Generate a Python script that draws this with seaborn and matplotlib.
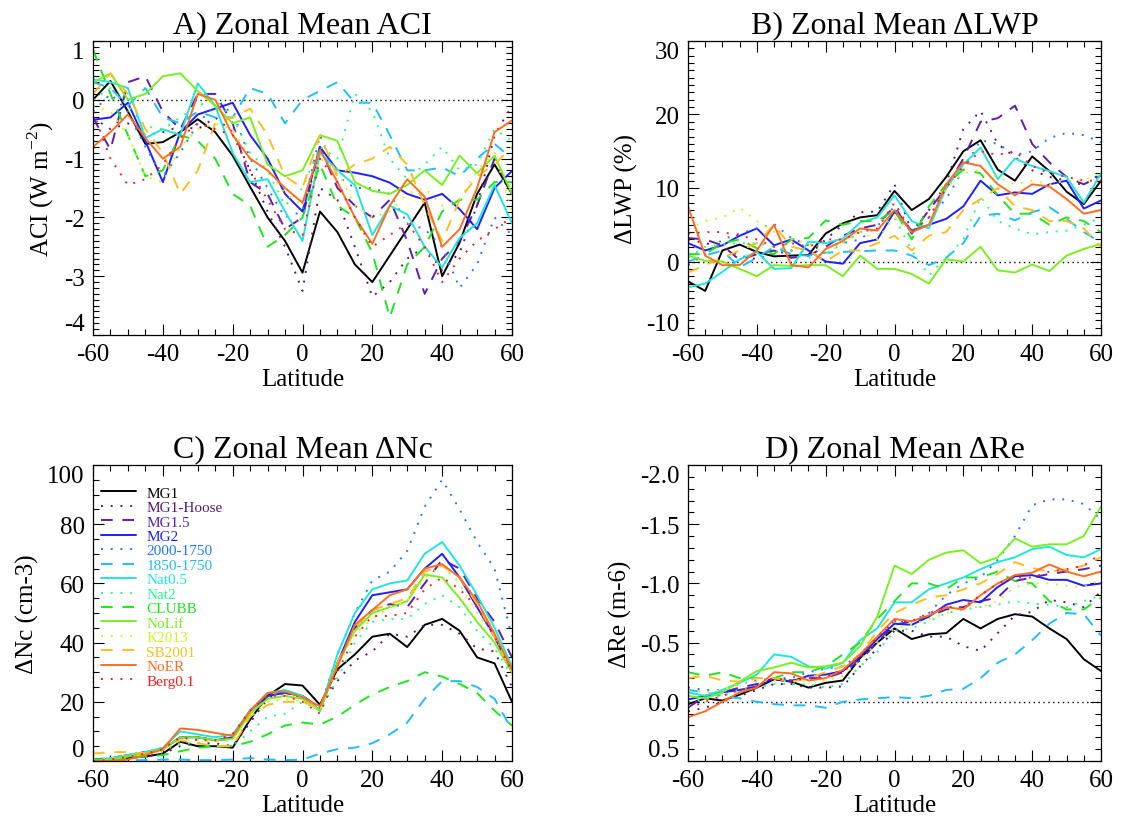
import matplotlib
matplotlib.use("Agg")
import matplotlib.pyplot as plt
import seaborn as sns
from matplotlib.ticker import MultipleLocator

LAT = list(range(-60, 61, 5))
MODELS = ["MG1", "MG1-Hoose", "MG1.5", "MG2", "2000-1750", "1850-1750", "Nat0.5",
          "Nat2", "CLUBB", "NoLif", "K2013", "SB2001", "NoER", "Berg0.1"]
COLORS = ["#000000", "#551a6e", "#5a1eb4", "#1e1eff", "#1e78ff", "#1ebeff", "#1ee6dc",
          "#1eff8c", "#1ee61e", "#78f01e", "#d2f51e", "#ffbe1e", "#ff6e1e", "#ff1e1e"]
STYLES = ["solid", "dot", "dash", "solid", "dot", "dash", "solid",
          "dot", "dash", "solid", "dot", "dash", "solid", "dot"]

# ---- Panel A: ACI (W m-2)
ACI_MG1 = [0.0, 0.32, -0.2, -0.75, -0.72, -0.55, -0.33, -0.55, -0.95, -1.48, -2.0, -2.4, -2.94, -1.9, -2.25, -2.8, -3.1, -2.65, -2.2, -1.75, -3.0, -2.43, -1.6, -1.1, -1.6]
ACI_MG1_HOOSE = [-0.3, -0.5, -0.4, -0.6, -0.55, -0.45, -0.5, -0.3, -0.55, -1.2, -1.9, -2.5, -3.25, -1.5, -1.7, -2.5, -3.35, -3.1, -2.7, -2.5, -2.9, -2.6, -1.8, -0.6, -0.1]
ACI_MG1_5 = [-0.3, -0.85, 0.3, 0.4, -0.2, -0.5, 0.1, 0.1, -0.4, -1.4, -1.6, -2.2, -2.0, -0.8, -1.5, -1.8, -2.0, -1.7, -2.4, -3.3, -2.7, -2.4, -1.8, -1.0, -1.6]
ACI_MG2 = [-0.34, -0.3, -0.05, -0.7, -1.4, -0.55, -0.25, -0.15, -0.05, -0.6, -1.0, -1.6, -1.9, -0.8, -1.2, -1.24, -1.3, -1.41, -1.6, -1.7, -1.6, -1.86, -2.2, -1.5, -1.21]
ACI_2000 = [-0.2, 0.1, -0.2, -0.8, -1.3, -0.9, -0.4, -0.1, -0.2, -1.0, -1.5, -2.0, -1.9, -0.6, -1.3, -1.5, -1.5, -1.6, -2.1, -2.2, -2.5, -3.2, -2.8, -2.0, -2.3]
ACI_1850 = [0.3, 0.2, -0.1, 0.2, -0.3, -0.4, -0.2, -0.3, -0.3, 0.2, 0.1, -0.4, 0.0, 0.15, 0.3, -0.05, -0.05, -0.6, -1.2, -1.2, -1.15, -1.3, -1.0, -0.75, -1.0]
ACI_NAT05 = [0.35, 0.3, 0.2, -0.65, -0.5, -0.6, 0.28, -0.1, -0.9, -1.4, -1.35, -1.9, -2.4, -0.9, -1.2, -1.45, -2.3, -1.8, -1.95, -2.5, -2.85, -2.35, -2.1, -1.45, -2.1]
ACI_NAT2 = [0.0, 0.2, -0.1, -0.45, -0.5, -0.3, -0.1, 0.0, -0.3, -0.9, -1.2, -1.8, -1.5, -0.8, -1.0, 0.1, -0.2, -1.0, -1.35, -1.1, -0.8, -1.2, -1.1, -0.5, -0.7]
ACI_CLUBB = [0.85, 0.1, -0.6, -1.3, -1.2, -0.6, -0.7, -1.0, -1.6, -1.8, -2.5, -2.3, -2.0, -1.1, -1.8, -2.0, -2.6, -3.7, -2.8, -2.5, -1.9, -1.7, -1.7, -1.4, -1.4]
ACI_NOLIF = [0.3, 0.45, 0.0, 0.1, 0.4, 0.45, 0.15, -0.1, -0.4, -0.3, -1.1, -1.3, -1.2, -0.6, -0.7, -1.4, -1.55, -1.6, -1.45, -1.2, -1.45, -0.95, -1.25, -0.95, -1.6]
ACI_K2013 = [-0.1, -0.2, -0.6, -1.3, -1.4, -0.8, -0.5, -0.4, -0.5, -1.0, -1.2, -1.6, -1.8, -1.0, -1.2, -1.8, -2.0, -1.9, -1.6, -1.5, -1.8, -1.7, -1.2, -0.9, -1.9]
ACI_SB2001 = [0.1, 0.45, 0.1, -0.5, -0.9, -1.6, -1.2, -0.4, -0.3, -0.15, -0.6, -1.3, -1.5, -0.6, -1.3, -1.1, -1.0, -0.8, -1.1, -1.8, -2.4, -1.7, -1.3, -1.1, -0.8]
ACI_NOER = [-0.8, -0.55, -0.25, -0.65, -1.0, -0.8, 0.1, 0.0, -0.6, -1.0, -1.2, -1.5, -1.75, -0.85, -1.4, -2.0, -2.45, -1.8, -1.35, -1.65, -2.5, -2.2, -1.5, -0.55, -0.35]
ACI_BERG = [-0.2, -1.0, -1.45, -1.35, -1.1, -0.65, -0.4, -0.5, -0.6, -1.2, -1.7, -2.2, -2.3, -1.0, -1.4, -2.0, -2.5, -2.3, -2.1, -2.5, -3.1, -2.7, -2.4, -2.2, -2.0]

# ---- Panel B: dLWP (%)
LWP_MG1 = [-2.7, -4.0, 1.5, 2.3, 1.3, 0.7, 0.8, 0.9, 3.8, 5.2, 6.0, 6.3, 9.6, 7.0, 8.5, 11.5, 15.0, 16.5, 12.5, 11.0, 14.3, 12.3, 9.5, 7.8, 11.0]
LWP_MG1_HOOSE = [3.0, 2.5, 2.0, 0.8, 0.3, 1.0, 1.5, 0.8, 3.0, 5.0, 6.7, 6.8, 10.5, 4.0, 7.0, 10.5, 18.0, 20.5, 16.0, 14.2, 12.4, 11.5, 11.0, 10.4, 12.0]
LWP_MG1_5 = [3.2, 3.0, 2.2, 0.2, 1.0, 1.5, 0.5, 0.8, 2.0, 3.5, 4.5, 5.0, 7.5, 3.8, 7.0, 10.0, 14.0, 19.0, 19.5, 21.2, 16.0, 13.5, 11.5, 10.5, 11.7]
LWP_MG2 = [2.5, 1.5, 2.2, 3.5, 4.5, 2.2, 3.0, 1.5, 0.0, -0.3, 2.5, 3.0, 6.8, 4.2, 5.0, 5.8, 7.5, 11.0, 9.0, 9.4, 9.2, 10.5, 11.0, 7.2, 8.3]
LWP_2000 = [-0.5, 1.0, 3.0, 3.8, 4.5, 5.1, 3.2, 2.2, 2.0, 2.5, 3.0, 4.8, 7.5, 4.0, 6.0, 8.5, 12.5, 16.5, 16.0, 14.5, 15.0, 16.8, 17.5, 17.2, 16.2]
LWP_1850 = [0.0, 0.8, 1.5, -0.8, 0.5, 2.0, 1.0, 0.8, 1.2, 1.3, 1.4, 1.5, 1.5, 0.8, -0.5, 0.5, 2.5, 6.2, 6.5, 5.6, 6.7, 7.4, 5.8, 4.0, 2.6]
LWP_NAT05 = [-3.5, -3.0, -1.4, 0.3, 1.3, -1.0, -0.9, 2.7, 2.5, 3.1, 5.3, 6.0, 9.0, 5.5, 4.5, 10.0, 13.2, 15.5, 11.2, 14.0, 13.0, 12.3, 11.5, 8.0, 12.0]
LWP_NAT2 = [0.5, 2.0, 2.3, 2.5, 2.5, 2.0, 1.5, 0.5, 1.0, 2.5, 4.0, 4.5, 6.0, 1.5, -1.9, 0.5, 3.0, 8.8, 5.5, 4.5, 3.7, 4.0, 4.2, 5.0, 6.0]
LWP_CLUBB = [1.0, 1.0, 2.5, 3.0, 1.8, 1.0, 3.0, 3.2, 5.6, 5.0, 5.5, 5.5, 7.0, 3.0, 7.5, 10.5, 12.5, 12.0, 9.0, 6.5, 6.5, 5.0, 6.0, 5.5, 4.0]
LWP_NOLIF = [0.8, 0.1, 0.0, -1.0, -2.0, -0.5, -0.6, -0.5, -0.5, -2.0, 0.8, -1.0, -1.0, -1.7, -3.0, 0.3, 0.0, 2.0, -1.2, -1.5, -0.4, -1.3, 0.8, 1.7, 2.4]
LWP_K2013 = [4.4, 5.5, 6.0, 7.3, 5.5, 4.0, 3.0, 2.5, 1.0, 2.5, 4.0, 3.0, 6.0, 4.0, 5.0, 10.0, 12.0, 12.5, 11.5, 10.5, 11.0, 10.5, 11.0, 11.0, 12.0]
LWP_SB2001 = [-1.5, -0.5, 0.5, 1.5, 2.5, 5.0, 2.0, 1.5, 0.0, 1.5, 1.5, 2.5, 3.5, 1.5, 3.5, 4.0, 7.0, 8.5, 10.0, 7.5, 7.0, 5.5, 5.5, 4.5, 2.0]
LWP_NOER = [7.5, 0.8, -0.5, -0.5, 1.5, 5.0, -0.5, -0.8, 1.7, 2.8, 4.5, 4.2, 7.0, 4.0, 5.0, 10.5, 13.5, 13.0, 10.5, 9.0, 10.5, 10.2, 8.5, 6.5, 7.0]
LWP_BERG = [3.8, 4.0, 4.0, 3.5, 3.0, 2.0, 2.5, 2.0, 3.0, 3.0, 4.0, 4.5, 8.0, 4.0, 6.0, 10.0, 13.0, 15.0, 14.5, 15.0, 13.0, 12.0, 11.5, 11.0, 11.0]

# ---- Panel C: dNc (cm-3)
NC_MG1 = [0.5, 0.5, 1.0, 1.5, 2.5, 6.5, 5.0, 5.0, 4.5, 14, 22, 26, 25.5, 19, 31, 36, 42, 43, 38.5, 46, 48, 44, 35, 33, 20]
NC_MG1_HOOSE = [0.5, 0.5, 1.0, 1.5, 2.5, 5.0, 6.0, 6.0, 5.0, 13, 21, 24, 21, 18, 27, 34, 37, 43, 42, 46, 46, 43, 38, 37, 25]
NC_MG1_5 = [0.5, 1.0, 2.0, 3.0, 4.0, 8.0, 8.0, 7.0, 7.5, 17, 22, 23, 22, 18, 33, 45, 51, 53, 52, 60, 68, 65, 55, 47, 35]
NC_MG2 = [0.0, 0.5, 2.0, 3.0, 4.0, 8.0, 8.0, 7.0, 8.0, 17, 22, 23, 22, 17, 33, 47, 56, 57, 58, 65, 70, 62, 52, 42, 30]
NC_2000 = [0.0, 0.5, 2.0, 3.0, 4.5, 8.0, 8.0, 7.0, 9.0, 17, 22, 23, 22, 18, 36, 50, 61, 64, 71, 86, 95, 85, 74, 65, 42]
NC_1850 = [0.5, 0.3, 0.3, 0.3, 0.5, 0.5, 0.3, 0.3, 0.5, 1.0, 0.5, 0.3, 0.5, 2.5, 4.0, 4.5, 6.0, 9.0, 13, 21, 27, 27, 25, 21, 10.5]
NC_NAT05 = [0.0, 1.0, 2.0, 3.0, 4.5, 10, 9, 8, 9, 17, 23, 24, 22, 17, 36, 50, 58, 60, 61, 70, 74, 66, 56, 45, 32]
NC_NAT2 = [0.0, 0.5, 1.5, 2.5, 3.5, 6, 6, 5, 5, 10, 15, 16, 20, 17, 28, 40, 47, 48, 48, 53, 56, 52, 44, 38, 29]
NC_CLUBB = [0.5, 0.5, 1.0, 1.5, 2.0, 3.3, 4.5, 5.0, 5.0, 6.5, 9.0, 12, 13, 12.3, 15, 19, 22.5, 25, 27, 30, 28.5, 26, 23, 17, 12]
NC_NOLIF = [0.0, 0.5, 1.5, 2.5, 4.0, 8, 8, 7, 7.5, 16, 21, 22, 21, 17, 33, 44, 50, 52, 54, 63, 62, 55, 47, 40, 30]
NC_K2013 = [0.5, 1.0, 2.0, 3.0, 4.0, 7, 7, 6.5, 7, 15, 20, 21, 20, 17, 32, 43, 48, 52, 54, 62, 66, 60, 50, 42, 32]
NC_SB2001 = [2.5, 3.0, 3.0, 2.5, 4.0, 7, 6, 5, 5, 15, 19, 20, 20, 18, 33, 45, 51, 53, 55, 64, 66, 62, 53, 42, 30]
NC_NOER = [0.0, 0.0, 0.5, 2.0, 4.0, 11, 10.5, 9.5, 8.5, 17, 23, 23.5, 21.5, 18.5, 32, 46, 51, 56, 58, 65, 66.5, 62, 54, 43, 31]
NC_BERG = [0.0, 0.5, 1.5, 2.5, 4.0, 8, 7, 7, 9, 17, 22, 22, 20, 16, 30, 42, 49, 49, 50, 58, 62, 58, 52, 42, 30]

# ---- Panel D: dRe (m-6)
RE_MG1 = [0.02, -0.03, -0.01, -0.06, -0.12, -0.19, -0.17, -0.12, -0.16, -0.18, -0.37, -0.50, -0.62, -0.53, -0.57, -0.58, -0.70, -0.62, -0.70, -0.74, -0.72, -0.62, -0.53, -0.36, -0.26]
RE_MG1_HOOSE = [0.08, 0.05, 0.0, -0.05, -0.10, -0.15, -0.15, -0.12, -0.12, -0.13, -0.30, -0.45, -0.60, -0.60, -0.55, -0.55, -0.47, -0.43, -0.58, -0.73, -0.76, -0.86, -0.84, -0.80, -0.93]
RE_MG1_5 = [0.05, -0.05, -0.08, -0.12, -0.15, -0.20, -0.18, -0.20, -0.20, -0.25, -0.35, -0.50, -0.65, -0.68, -0.72, -0.78, -0.80, -0.85, -0.88, -1.02, -1.05, -1.08, -1.10, -1.12, -1.15]
RE_MG2 = [-0.02, -0.05, -0.08, -0.10, -0.13, -0.20, -0.17, -0.22, -0.23, -0.26, -0.38, -0.53, -0.66, -0.65, -0.72, -0.82, -0.86, -0.84, -0.97, -1.06, -1.07, -1.03, -1.03, -0.98, -1.00]
RE_2000 = [-0.12, -0.10, -0.10, -0.15, -0.18, -0.20, -0.20, -0.25, -0.28, -0.30, -0.40, -0.55, -0.68, -0.68, -0.75, -0.90, -1.00, -1.05, -1.20, -1.40, -1.66, -1.71, -1.71, -1.67, -1.54]
RE_1850 = [-0.10, -0.08, -0.05, -0.03, 0.0, 0.02, 0.03, 0.03, 0.05, 0.0, -0.02, -0.03, -0.04, -0.03, -0.05, -0.10, -0.11, -0.20, -0.33, -0.40, -0.52, -0.66, -0.75, -0.74, -0.56]
RE_NAT05 = [-0.08, -0.05, -0.10, -0.16, -0.23, -0.40, -0.38, -0.30, -0.28, -0.33, -0.52, -0.62, -0.84, -0.84, -0.95, -1.00, -1.05, -1.12, -1.18, -1.22, -1.29, -1.31, -1.24, -1.22, -1.29]
RE_NAT2 = [0.0, -0.02, -0.05, -0.10, -0.12, -0.15, -0.15, -0.15, -0.12, -0.15, -0.30, -0.42, -0.60, -0.62, -0.68, -0.75, -0.78, -0.80, -0.82, -0.85, -0.83, -0.82, -0.80, -0.85, -0.90]
RE_CLUBB = [-0.25, -0.22, -0.25, -0.20, -0.20, -0.20, -0.25, -0.25, -0.30, -0.40, -0.50, -0.70, -0.85, -1.00, -1.00, -0.95, -1.05, -1.05, -1.10, -1.02, -1.00, -0.85, -0.78, -0.78, -0.88]
RE_NOLIF = [-0.05, -0.03, -0.08, -0.17, -0.26, -0.29, -0.33, -0.29, -0.30, -0.33, -0.47, -0.72, -1.15, -1.08, -1.20, -1.26, -1.28, -1.17, -1.22, -1.38, -1.31, -1.33, -1.33, -1.40, -1.65]
RE_K2013 = [-0.10, -0.08, -0.10, -0.15, -0.17, -0.18, -0.17, -0.18, -0.18, -0.22, -0.35, -0.50, -0.62, -0.65, -0.70, -0.75, -0.80, -0.80, -0.85, -0.97, -1.00, -1.00, -0.98, -0.97, -1.03]
RE_SB2001 = [-0.20, -0.22, -0.18, -0.17, -0.20, -0.20, -0.17, -0.20, -0.25, -0.30, -0.40, -0.60, -0.75, -0.82, -0.88, -0.90, -0.95, -1.00, -1.08, -1.18, -1.13, -1.10, -1.12, -1.15, -1.22]
RE_NOER = [0.13, 0.08, 0.0, -0.08, -0.12, -0.25, -0.24, -0.18, -0.20, -0.27, -0.40, -0.55, -0.70, -0.68, -0.73, -0.80, -0.78, -0.90, -1.00, -1.07, -1.09, -1.16, -1.10, -1.06, -1.10]
RE_BERG = [0.05, 0.0, -0.05, -0.10, -0.13, -0.20, -0.18, -0.20, -0.22, -0.25, -0.38, -0.55, -0.68, -0.68, -0.75, -0.80, -0.80, -0.90, -1.00, -1.05, -1.05, -1.10, -1.12, -1.15, -1.25]

ACI = [ACI_MG1, ACI_MG1_HOOSE, ACI_MG1_5, ACI_MG2, ACI_2000, ACI_1850, ACI_NAT05,
       ACI_NAT2, ACI_CLUBB, ACI_NOLIF, ACI_K2013, ACI_SB2001, ACI_NOER, ACI_BERG]
LWP = [LWP_MG1, LWP_MG1_HOOSE, LWP_MG1_5, LWP_MG2, LWP_2000, LWP_1850, LWP_NAT05,
       LWP_NAT2, LWP_CLUBB, LWP_NOLIF, LWP_K2013, LWP_SB2001, LWP_NOER, LWP_BERG]
NC = [NC_MG1, NC_MG1_HOOSE, NC_MG1_5, NC_MG2, NC_2000, NC_1850, NC_NAT05,
      NC_NAT2, NC_CLUBB, NC_NOLIF, NC_K2013, NC_SB2001, NC_NOER, NC_BERG]
RE = [RE_MG1, RE_MG1_HOOSE, RE_MG1_5, RE_MG2, RE_2000, RE_1850, RE_NAT05,
      RE_NAT2, RE_CLUBB, RE_NOLIF, RE_K2013, RE_SB2001, RE_NOER, RE_BERG]

sns.set_theme(style="ticks")
plt.rcParams["font.family"] = ["Liberation Serif", "DejaVu Serif"]
plt.rcParams["axes.unicode_minus"] = False
plt.rcParams["mathtext.fontset"] = "custom"
plt.rcParams["mathtext.rm"] = "Liberation Serif"
plt.rcParams["text.color"] = "black"
plt.rcParams["axes.labelcolor"] = "black"
plt.rcParams["axes.titlecolor"] = "black"
plt.rcParams["xtick.color"] = "black"
plt.rcParams["ytick.color"] = "black"
plt.rcParams["xtick.labelcolor"] = "black"
plt.rcParams["ytick.labelcolor"] = "black"

LW = 1.4
DASHES = {"solid": "-", "dot": (0, (1, 4)), "dash": (0, (6, 5))}

fig = plt.figure(figsize=(11.26, 8.29), dpi=100)
W, H = 1126, 829


def rect(x0, x1, y0, y1):
    return [x0 / W, (H - y1) / H, (x1 - x0) / W, (y1 - y0) / H]


axA = fig.add_axes(rect(93, 512, 42, 336))
axB = fig.add_axes(rect(688, 1101, 42, 336))
axC = fig.add_axes(rect(93, 512, 466, 762))
axD = fig.add_axes(rect(688, 1101, 466, 762))

panels = [
    (axA, ACI, "A) Zonal Mean ACI", "ACI (W m$^{\\mathregular{-2}}$)",
     (-4, 1), [1, 0, -1, -2, -3, -4], ["1", "0", "-1", "-2", "-3", "-4"], 0.1, True),
    (axB, LWP, "B) Zonal Mean \u0394LWP", "\u0394LWP (%)",
     (-10, 30), [30, 20, 10, 0, -10], ["30", "20", "10", "0", "-10"], 1, True),
    (axC, NC, "C) Zonal Mean \u0394Nc", "\u0394Nc (cm-3)",
     (0, 100), [100, 80, 60, 40, 20, 0], ["100", "80", "60", "40", "20", "0"], 5, False),
    (axD, RE, "D) Zonal Mean \u0394Re", "\u0394Re (m-6)",
     (0.5, -2.0), [-2.0, -1.5, -1.0, -0.5, 0.0, 0.5],
     ["-2.0", "-1.5", "-1.0", "-0.5", "0.0", "0.5"], 0.1, True),
]

for ax, data, title, ylabel, ylim, yt, ytl, yminor, zero in panels:
    if zero:
        ax.axhline(0, color="black", lw=1.0, linestyle=(0, (1, 2.5)), zorder=1)
    for vals, c, st, name in zip(data, COLORS, STYLES, MODELS):
        sns.lineplot(x=LAT, y=vals, ax=ax, color=c, lw=LW, legend=False, zorder=2)
        ax.lines[-1].set_linestyle(DASHES[st])
        ax.lines[-1].set_label(name)
    ax.set_xlim(-60, 60)
    ax.set_ylim(*ylim)
    ax.set_xticks([-60, -40, -20, 0, 20, 40, 60])
    ax.set_xticklabels(["-60", "-40", "-20", "0", "20", "40", "60"])
    ax.xaxis.set_minor_locator(MultipleLocator(5))
    ax.set_yticks(yt)
    ax.set_yticklabels(ytl)
    ax.yaxis.set_minor_locator(MultipleLocator(yminor))
    ax.tick_params(which="both", direction="in", top=True, right=True,
                   labelsize=18, colors="black", labelcolor="black", width=0.8)
    ax.tick_params(which="major", length=8, pad=6)
    ax.tick_params(which="minor", length=4)
    ax.set_title(title, fontsize=23, pad=6, color="black")
    ax.set_xlabel("Latitude", fontsize=18, labelpad=2, color="black")
    ax.set_ylabel(ylabel, fontsize=18, labelpad=6, color="black")
    for sp in ax.spines.values():
        sp.set_color("black")
        sp.set_linewidth(0.9)
    ticks = ax.yaxis.get_major_ticks()
    ticks[0].label1.set_verticalalignment("top")
    ticks[-1].label1.set_verticalalignment("bottom")

# legend in panel C
handles = axC.lines[:len(MODELS)]
leg = axC.legend(handles, MODELS, loc="upper left", frameon=False, fontsize=11,
                 labelspacing=0.05, handlelength=2.3, handletextpad=0.7,
                 borderaxespad=0.2, borderpad=0.3, bbox_to_anchor=(0.0, 0.955))
for txt, c in zip(leg.get_texts(), COLORS):
    txt.set_color(c)

fig.savefig("out.png", dpi=100)
